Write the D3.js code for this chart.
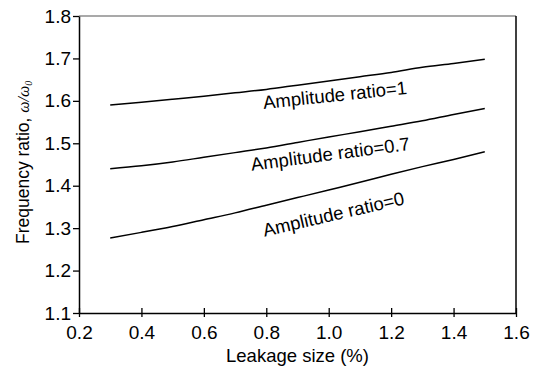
<!DOCTYPE html>
<html>
<head>
<meta charset="utf-8">
<script src="https://cdn.jsdelivr.net/npm/d3@7"></script>
<style>
  body { margin: 0; background: #fff; }
  text { font-family: "Liberation Sans", Arial, sans-serif; fill: #000; }
</style>
</head>
<body>
<script>
  // leakage size (%) on the x axis
  const leakage = [0.3, 0.4, 0.5, 0.6, 0.7, 0.8, 0.9, 1.0, 1.1, 1.2, 1.3, 1.4, 1.5];

  // frequency ratio for each amplitude ratio
  const ratio1  = [1.590, 1.597, 1.604, 1.611, 1.619, 1.627, 1.637, 1.647, 1.657, 1.667, 1.679, 1.688, 1.698];
  const ratio07 = [1.440, 1.447, 1.456, 1.467, 1.478, 1.489, 1.502, 1.515, 1.527, 1.540, 1.553, 1.568, 1.582];
  const ratio0  = [1.277, 1.290, 1.304, 1.320, 1.336, 1.354, 1.372, 1.390, 1.408, 1.427, 1.445, 1.462, 1.480];

  const seriesNames = ["Amplitude ratio=1", "Amplitude ratio=0.7", "Amplitude ratio=0"];
  // where each curve label sits, in data units, and its tilt
  const labelX = [1.02, 1.005, 1.015];
  const labelY = [1.614, 1.475, 1.333];
  const labelAngle = [-6, -7.5, -13];

  const xTicks = [0.2, 0.4, 0.6, 0.8, 1.0, 1.2, 1.4, 1.6];
  const yTicks = [1.1, 1.2, 1.3, 1.4, 1.5, 1.6, 1.7, 1.8];

  const w = 535, h = 370;
  const mLeft = 79, mRight = 516, mTop = 16, mBottom = 313;

  const x = d3.scaleLinear().domain([0.2, 1.6]).range([mLeft, mRight]);
  const y = d3.scaleLinear().domain([1.1, 1.8]).range([mBottom, mTop]);

  const svg = d3.select("body").append("svg")
      .attr("width", w)
      .attr("height", h);

  // frame: top and right edges
  svg.append("line")
     .attr("x1", mLeft).attr("x2", mRight)
     .attr("y1", mTop).attr("y2", mTop)
     .attr("stroke", "#555").attr("stroke-width", 1.2);
  svg.append("line")
     .attr("x1", mRight).attr("x2", mRight)
     .attr("y1", mTop).attr("y2", mBottom)
     .attr("stroke", "#000").attr("stroke-width", 1.5);

  // x axis, ticks crossing the line
  const xAxis = svg.append("g")
      .attr("transform", `translate(0,${mBottom})`)
      .call(d3.axisBottom(x).tickValues(xTicks).tickFormat(d3.format(".1f"))
              .tickSizeInner(4).tickSizeOuter(0).tickPadding(9));
  xAxis.selectAll(".tick line").attr("y1", -5);
  xAxis.select(".domain").attr("stroke-width", 1.5);
  xAxis.selectAll(".tick line").attr("stroke-width", 1.3);
  xAxis.selectAll("text").style("font-size", "19px").attr("font-family", null);

  // y axis
  const yAxis = svg.append("g")
      .attr("transform", `translate(${mLeft},0)`)
      .call(d3.axisLeft(y).tickValues(yTicks).tickFormat(d3.format(".1f"))
              .tickSizeInner(6).tickSizeOuter(0).tickPadding(2));
  yAxis.select(".domain").attr("stroke-width", 1.5);
  yAxis.selectAll(".tick line").attr("stroke-width", 1.3);
  yAxis.selectAll("text").style("font-size", "19px").attr("font-family", null);

  // curves
  const line = d3.line()
      .x((d, i) => x(leakage[i]))
      .y(d => y(d))
      .curve(d3.curveMonotoneX);

  const allSeries = [ratio1, ratio07, ratio0];
  svg.selectAll("path.curve")
     .data(allSeries)
     .enter()
     .append("path")
     .attr("class", "curve")
     .attr("d", line)
     .attr("fill", "none")
     .attr("stroke", "#000")
     .attr("stroke-width", 1.5);

  // curve labels
  svg.selectAll("text.lbl")
     .data(seriesNames)
     .enter()
     .append("text")
     .attr("class", "lbl")
     .attr("text-anchor", "middle")
     .style("font-size", "18.5px")
     .attr("transform", (d, i) => `translate(${x(labelX[i])},${y(labelY[i])}) rotate(${labelAngle[i]})`)
     .attr("dy", "0.35em")
     .text(d => d);

  // axis titles
  svg.append("text")
     .attr("x", (mLeft + mRight) / 2)
     .attr("y", 362)
     .attr("text-anchor", "middle")
     .style("font-size", "18.5px")
     .text("Leakage size (%)");

  const yt = svg.append("text")
     .attr("transform", "translate(29,244) rotate(-90)")
     .attr("text-anchor", "start")
     .style("font-size", "17.5px");
  yt.append("tspan").text("Frequency ratio, ");
  yt.append("tspan").style("font-family", "'Liberation Serif', serif").style("font-style", "italic")
    .style("font-size", "16px").text("ω/ω");
  yt.append("tspan").style("font-family", "'Liberation Serif', serif").style("font-style", "italic")
    .style("font-size", "10px").attr("dy", 3).text("0");
</script>
</body>
</html>
